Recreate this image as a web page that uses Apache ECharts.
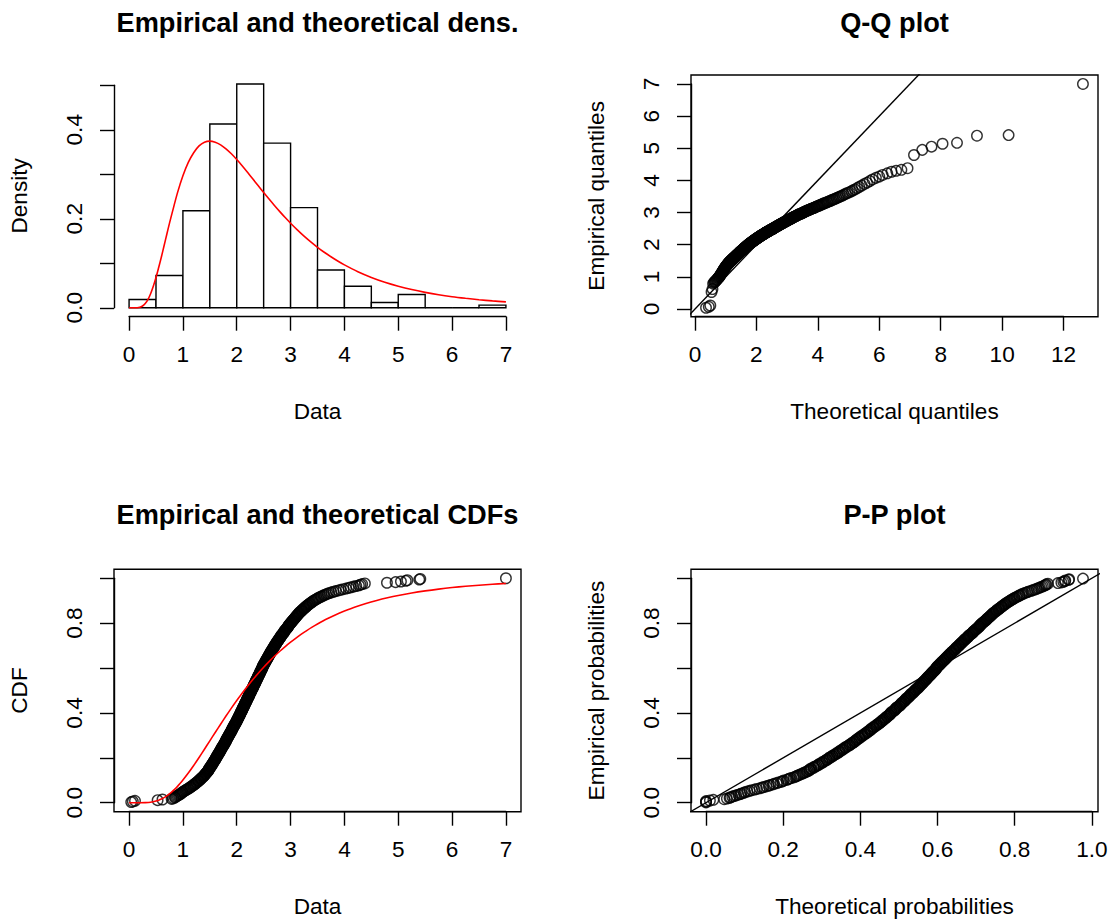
<!DOCTYPE html>
<html>
<head>
<meta charset="utf-8">
<script src="https://cdn.jsdelivr.net/npm/echarts@6.0.0/dist/echarts.min.js"></script>
<style>html,body{margin:0;padding:0;background:#fff}#chart{width:1113px;height:924px}</style>
</head>
<body>
<div id="chart"></div>
<script>
// ---------------- data ----------------
const histEdges = [0, 0.5, 1, 1.5, 2, 2.5, 3, 3.5, 4, 4.5, 5, 5.5, 6, 6.5, 7];
const histDensity = [0.0187, 0.0725, 0.218, 0.413, 0.503, 0.370, 0.225, 0.085, 0.0485, 0.0119, 0.0298, 0, 0, 0.006];

const fitDensX = [0, 0.1, 0.2, 0.25, 0.3, 0.35, 0.4, 0.45, 0.5, 0.55, 0.6, 0.65, 0.7, 0.75, 0.8, 0.9, 1.0, 1.1, 1.2, 1.3, 1.4, 1.5, 1.6, 1.7, 1.8, 1.9, 2.0, 2.1, 2.2, 2.3, 2.4, 2.5, 2.6, 2.7, 2.8, 2.9, 3.0, 3.125, 3.25, 3.375, 3.5, 3.625, 3.75, 3.875, 4.0, 4.25, 4.5, 4.75, 5.0, 5.25, 5.5, 5.75, 6.0, 6.25, 6.5, 6.75, 7.0];
const fitDensY = [0, 0, 0.0012, 0.0040, 0.0096, 0.0185, 0.0316, 0.0484, 0.0679, 0.0905, 0.1141, 0.1393, 0.1646, 0.1897, 0.2132, 0.2587, 0.2966, 0.3267, 0.3485, 0.3638, 0.3720, 0.3745, 0.3720, 0.3662, 0.3572, 0.3460, 0.3331, 0.3192, 0.3044, 0.2893, 0.2742, 0.2590, 0.2443, 0.2299, 0.2161, 0.2027, 0.1900, 0.1751, 0.1610, 0.1481, 0.1359, 0.1247, 0.1146, 0.1050, 0.0963, 0.0810, 0.0682, 0.0574, 0.0485, 0.0409, 0.0346, 0.0292, 0.0248, 0.0212, 0.0180, 0.0154, 0.0132];

const fitCdfX = [0, 0.2, 0.3, 0.4, 0.5, 0.55, 0.6, 0.65, 0.7, 0.75, 0.8, 0.85, 0.9, 0.95, 1.0, 1.1, 1.2, 1.3, 1.4, 1.5, 1.6, 1.7, 1.8, 1.9, 2.0, 2.1, 2.2, 2.3, 2.4, 2.5, 2.6, 2.7, 2.8, 2.9, 3.0, 3.1, 3.2, 3.3, 3.4, 3.5, 3.6, 3.7, 3.8, 3.9, 4.0, 4.2, 4.4, 4.6, 4.8, 5.0, 5.25, 5.5, 5.75, 6.0, 6.25, 6.5, 6.75, 7.0];
const fitCdfY = [0, 0.00003, 0.0005, 0.0024, 0.0073, 0.0113, 0.0164, 0.0227, 0.0303, 0.0391, 0.0492, 0.0605, 0.0729, 0.0864, 0.1008, 0.1320, 0.1658, 0.2015, 0.2383, 0.2756, 0.3130, 0.3499, 0.3861, 0.4213, 0.4553, 0.4878, 0.5191, 0.5488, 0.5770, 0.6036, 0.6288, 0.6525, 0.6748, 0.6957, 0.7154, 0.7338, 0.7510, 0.7671, 0.7822, 0.7962, 0.8093, 0.8216, 0.8331, 0.8438, 0.8537, 0.8717, 0.8874, 0.9010, 0.9129, 0.9233, 0.9344, 0.9438, 0.9518, 0.9586, 0.9643, 0.9692, 0.9733, 0.9769];

// sorted observations
const sample = [
0.04,0.07,0.11,
0.53,0.62,0.79,0.82,0.85,0.86,0.88,0.90,0.92,0.94,0.96,0.97,0.99,
1.00,1.02,1.04,1.06,1.08,1.10,1.12,1.14,1.15,1.17,1.19,1.20,1.22,1.23,1.25,1.26,1.28,1.29,1.30,1.32,
1.33,1.34,1.35,1.37,1.38,1.39,1.40,1.41,1.42,1.43,1.44,1.45,1.46,1.47,1.48,1.48,1.49,1.49,
1.51,1.51,1.52,1.53,1.54,1.54,1.55,1.56,1.57,1.57,1.58,1.59,1.60,1.60,1.61,1.62,1.62,1.63,1.64,1.64,
1.65,1.66,1.67,1.67,1.68,1.69,1.69,1.70,1.71,1.71,1.72,1.73,1.73,1.74,1.75,1.76,1.76,1.77,1.78,1.78,
1.79,1.80,1.80,1.81,1.81,1.82,1.83,1.83,1.84,1.85,1.85,1.86,1.87,1.87,1.88,1.89,1.89,1.90,1.91,1.91,
1.92,1.92,1.93,1.94,1.94,1.95,1.96,1.96,1.97,1.98,1.98,1.99,
2.00,2.00,2.01,2.01,2.02,2.03,2.03,2.04,2.04,2.05,2.06,2.06,2.07,2.07,2.08,2.08,2.09,2.10,2.10,2.11,
2.11,2.12,2.12,2.13,2.14,2.14,2.15,2.15,2.16,2.16,2.17,2.18,2.18,2.19,2.19,2.20,2.20,2.21,2.22,2.22,
2.23,2.23,2.24,2.24,2.25,2.26,2.26,2.27,2.27,2.28,2.28,2.29,2.30,2.30,2.31,2.31,2.32,2.32,2.33,2.34,
2.34,2.35,2.35,2.36,2.36,2.37,2.38,2.38,2.39,2.39,2.40,2.40,2.41,2.42,2.42,2.43,2.43,2.44,2.44,2.45,
2.46,2.46,2.47,2.47,2.48,2.48,2.49,2.49,
2.50,2.51,2.51,2.52,2.53,2.53,2.54,2.55,2.55,2.56,2.57,2.57,2.58,2.59,2.59,2.60,2.61,2.61,2.62,2.63,
2.63,2.64,2.65,2.66,2.66,2.67,2.68,2.68,2.69,2.70,2.71,2.71,2.72,2.73,2.74,2.74,2.75,2.76,2.77,2.78,
2.78,2.79,2.80,2.81,2.82,2.82,2.83,2.84,2.85,2.86,2.87,2.88,2.88,2.89,2.90,2.91,2.92,2.93,2.94,2.95,
2.96,2.96,2.97,2.98,2.99,
3.00,3.01,3.02,3.03,3.04,3.05,3.06,3.07,3.08,3.09,3.10,3.11,3.12,3.13,3.14,3.15,3.16,3.17,3.19,3.20,
3.21,3.22,3.24,3.25,3.26,3.28,3.29,3.30,3.32,3.33,3.35,3.36,3.38,3.40,3.41,3.43,3.45,3.47,3.49,
3.51,3.53,3.56,3.58,3.61,3.63,3.66,3.69,3.72,3.76,3.80,3.84,3.89,3.93,3.98,
4.03,4.08,4.12,4.17,4.22,4.27,4.30,4.33,4.38,
4.79,4.95,
5.05,5.14,5.17,5.39,5.41,
7.00];

// theoretical quantiles matching each observation (Q-Q x positions)
const theoQuantiles = [
0.36,0.45,0.50,0.54,0.57,0.59,0.62,0.64,0.66,0.68,
0.70,0.72,0.73,0.75,0.76,0.78,0.79,0.80,0.82,0.83,
0.84,0.85,0.87,0.88,0.89,0.90,0.91,0.92,0.93,0.94,
0.95,0.96,0.97,0.98,0.99,1.00,1.01,1.02,1.03,1.04,
1.05,1.06,1.07,1.08,1.09,1.09,1.10,1.11,1.12,1.13,
1.14,1.15,1.16,1.16,1.17,1.18,1.19,1.20,1.20,1.21,
1.22,1.23,1.24,1.25,1.25,1.26,1.27,1.28,1.28,1.29,
1.30,1.31,1.32,1.32,1.33,1.34,1.35,1.36,1.36,1.37,
1.38,1.39,1.39,1.40,1.41,1.42,1.43,1.43,1.44,1.45,
1.45,1.46,1.47,1.48,1.48,1.49,1.50,1.51,1.51,1.52,
1.53,1.54,1.55,1.55,1.56,1.57,1.58,1.58,1.59,1.60,
1.61,1.61,1.62,1.63,1.64,1.65,1.65,1.66,1.67,1.68,
1.68,1.69,1.70,1.71,1.72,1.73,1.73,1.74,1.75,1.75,
1.76,1.77,1.78,1.79,1.79,1.80,1.81,1.82,1.83,1.84,
1.84,1.85,1.86,1.87,1.88,1.88,1.89,1.90,1.91,1.92,
1.93,1.93,1.94,1.95,1.96,1.97,1.98,1.98,1.99,2.00,
2.01,2.02,2.03,2.04,2.04,2.05,2.06,2.07,2.08,2.09,
2.10,2.11,2.12,2.12,2.13,
2.14,2.15,2.16,2.17,2.18,
2.19,2.20,2.21,2.22,2.23,2.24,2.25,2.26,2.27,2.28,
2.28,2.29,2.31,2.31,2.32,2.34,2.35,2.35,2.37,2.38,
2.39,2.40,2.41,2.42,2.43,2.44,2.45,2.46,2.47,2.48,
2.49,2.50,2.52,2.53,2.54,2.55,2.56,2.57,2.58,2.59,
2.61,2.62,2.63,2.64,2.65,2.66,2.68,2.69,2.70,2.72,
2.73,2.74,2.75,2.76,2.78,2.79,2.80,2.82,2.83,2.85,
2.86,2.87,2.89,2.90,2.91,2.93,2.94,2.96,2.97,2.99,
3.00,3.02,3.03,3.05,3.06,3.08,3.10,3.11,3.13,3.15,
3.16,3.18,3.19,3.21,3.23,3.25,3.26,3.28,3.30,3.32,
3.34,3.36,3.37,3.39,3.42,3.44,3.46,3.48,3.50,3.52,
3.54,3.56,3.58,3.60,3.63,3.66,3.67,3.70,3.72,3.75,
3.77,3.80,3.82,3.85,3.88,3.90,3.93,3.96,3.99,4.02,
4.05,4.08,4.12,4.15,4.18,4.21,4.25,4.29,4.32,4.36,
4.40,4.44,4.48,4.52,4.56,4.61,4.66,4.70,4.75,4.80,
4.85,4.91,4.96,5.02,5.09,5.14,5.21,5.28,5.35,5.43,
5.52,5.60,5.69,5.78,5.89,6.00,6.11,6.26,6.40,6.55,
6.72,6.92,7.13,7.40,7.70,8.06,8.53,9.18,10.21,12.63];

// theoretical probabilities matching each observation (P-P x positions)
const theoProbs = [
0,0,0,
.010,.019,.047,.054,.061,.063,.068,.073,.078,.084,.089,.092,.098,
.101,.107,.113,.119,.126,.132,.139,.145,.149,.156,.162,.166,.173,.176,.183,.187,.194,.198,.201,.209,
.212,.216,.220,.227,.231,.235,.238,.242,.246,.250,.253,.257,.261,.264,.268,.268,.272,.272,
.279,.279,.283,.287,.291,.291,.294,.298,.302,.302,.306,.309,.313,.313,.317,.320,.320,.324,.328,.328,
.332,.335,.339,.339,.343,.346,.346,.350,.354,.354,.357,.361,.361,.365,.368,.372,.372,.375,.379,.379,
.383,.386,.386,.390,.390,.393,.397,.397,.400,.404,.404,.407,.411,.411,.414,.418,.418,.421,.425,.425,
.428,.428,.432,.435,.435,.439,.442,.442,.445,.449,.449,.452,
.455,.455,.459,.459,.462,.465,.465,.469,.469,.472,.475,.475,.478,.478,.481,.481,.485,.488,.488,.491,
.491,.494,.494,.497,.501,.501,.504,.504,.507,.507,.510,.513,.513,.516,.516,.519,.519,.522,.525,.525,
.528,.528,.531,.531,.534,.537,.537,.540,.540,.543,.543,.546,.549,.549,.552,.552,.555,.555,.557,.560,
.560,.563,.563,.566,.566,.569,.571,.571,.574,.574,.577,.577,.580,.582,.582,.585,.585,.588,.588,.591,
.593,.593,.596,.596,.598,.598,.601,.601,
.604,.606,.606,.609,.611,.611,.614,.616,.616,.619,.621,.621,.624,.626,.626,.629,.631,.631,.634,.636,
.636,.638,.641,.643,.643,.646,.648,.648,.650,.653,.655,.655,.657,.659,.662,.662,.664,.666,.668,.670,
.670,.673,.675,.677,.679,.679,.681,.683,.685,.688,.690,.692,.692,.694,.696,.698,.700,.702,.704,.706,
.708,.708,.710,.712,.713,
.715,.717,.719,.721,.723,.725,.727,.728,.730,.732,.734,.736,.737,.739,.741,.743,.744,.746,.749,.751,
.753,.754,.758,.759,.761,.764,.766,.767,.770,.772,.775,.776,.779,.782,.784,.787,.789,.792,.795,
.798,.800,.804,.807,.811,.813,.817,.820,.824,.829,.833,.837,.843,.847,.852,
.857,.861,.865,.869,.873,.877,.880,.882,.886,
.912,.921,
.926,.930,.931,.940,.941,
.977];

// tick labels
const densXLabels = ['0','1','2','3','4','5','6','7'];
const densYLabels = ['0.0','','0.2','','0.4',''];
const qqXLabels = ['0','2','4','6','8','10','12'];
const qqYLabels = ['0','1','2','3','4','5','6','7'];
const cdfXLabels = ['0','1','2','3','4','5','6','7'];
const probYLabels = ['0.0','','0.4','','0.8',''];
const ppXLabels = ['0.0','0.2','0.4','0.6','0.8','1.0'];
const identityLineQQ = [-1, 14];
const identityLinePP = [-0.1, 1.1];

// ---------------- chart ----------------
const FONT = "'Liberation Sans', Arial, Helvetica, sans-serif";
const N = sample.length;
const LW = 1.4;

const boxStyle = {show: true, borderColor: '#000', borderWidth: LW, backgroundColor: 'rgba(0,0,0,0)'};
const grids = [
  {left: 114, top: 75, width: 407, height: 241.7},
  {left: 129.07, top: 75, width: 376.85, height: 241.7},
  {left: 114, top: 85.26, width: 407, height: 222.5},
  Object.assign({left: 691, top: 75, width: 407, height: 241.7}, boxStyle),
  {left: 694.96, top: 75, width: 368.64, height: 241.7},
  {left: 691, top: 83.94, width: 407, height: 225.11},
  Object.assign({left: 114, top: 569.3, width: 407, height: 242.4}, boxStyle),
  {left: 129.07, top: 569.3, width: 376.85, height: 242.4},
  {left: 114, top: 578.28, width: 407, height: 224.44},
  Object.assign({left: 691, top: 569.3, width: 407, height: 242.4}, boxStyle),
  {left: 706.05, top: 569.3, width: 385.82, height: 242.4},
  {left: 691, top: 578.28, width: 407, height: 224.44}
].map(g => Object.assign({containLabel: false, outerBoundsMode: 'none'}, g));

const txt = {color: '#000', fontFamily: FONT, fontSize: 22.6, lineHeight: 22};
function hidden(gi, min, max) {
  return {type: 'value', gridIndex: gi, show: false, min: min, max: max};
}
// axis of the plotting region: invisible except for its title, centred on the region
function named(gi, min, max, name, vertical) {
  const ax = {
    type: 'value', gridIndex: gi, min: min, max: max, show: true,
    position: vertical ? 'left' : 'bottom',
    axisLine: {show: false}, axisTick: {show: false}, axisLabel: {show: false}, splitLine: {show: false},
    name: name, nameLocation: 'middle', nameGap: 84, nameTextStyle: Object.assign({}, txt)
  };
  if (vertical) ax.nameRotate = 90;
  return ax;
}
function shownX(gi, min, max, interval, labels) {
  return {
    type: 'value', gridIndex: gi, min: min, max: max, interval: interval, position: 'bottom',
    axisLine: {show: true, onZero: false, lineStyle: {color: '#000', width: LW}},
    axisTick: {show: true, length: 14, lineStyle: {color: '#000', width: LW}},
    splitLine: {show: false},
    axisLabel: Object.assign({show: true, margin: 26.5, showMinLabel: true, showMaxLabel: true,
      formatter: (v, i) => labels[i] || ''}, txt)
  };
}
function shownY(gi, min, max, interval, labels) {
  return {
    type: 'value', gridIndex: gi, min: min, max: max, interval: interval, position: 'left',
    axisLine: {show: true, onZero: false, lineStyle: {color: '#000', width: LW}},
    axisTick: {show: true, length: 14, lineStyle: {color: '#000', width: LW}},
    splitLine: {show: false},
    axisLabel: Object.assign({show: true, margin: 29, rotate: 90, showMinLabel: true, showMaxLabel: true,
      formatter: (v, i) => labels[i] || ''}, txt)
  };
}

const xAxis = [
  named(0, -0.28, 7.28, 'Data', false),
  shownX(1, 0, 7, 1, densXLabels),
  hidden(2, 0, 1),
  named(3, -0.129, 13.12, 'Theoretical quantiles', false),
  shownX(4, 0, 12, 2, qqXLabels),
  hidden(5, 0, 1),
  named(6, -0.28, 7.28, 'Data', false),
  shownX(7, 0, 7, 1, cdfXLabels),
  hidden(8, 0, 1),
  named(9, -0.039, 1.0159, 'Theoretical probabilities', false),
  shownX(10, 0, 1, 0.2, ppXLabels),
  hidden(11, 0, 1)
];
const yAxis = [
  named(0, -0.0201, 0.5231, 'Density', true),
  hidden(1, 0, 1),
  shownY(2, 0, 0.5, 0.1, densYLabels),
  named(3, -0.238, 7.278, 'Empirical quantiles', true),
  hidden(4, 0, 1),
  shownY(5, 0, 7, 1, qqYLabels),
  named(6, -0.04, 1.04, 'CDF', true),
  hidden(7, 0, 1),
  shownY(8, 0, 1, 0.2, probYLabels),
  named(9, -0.04, 1.04, 'Empirical probabilities', true),
  hidden(10, 0, 1),
  shownY(11, 0, 1, 0.2, probYLabels)
];

const titleStyle = {color: '#000', fontFamily: FONT, fontSize: 27.2, fontWeight: 'bold', lineHeight: 28};
const titles = [
  ['Empirical and theoretical dens.', 317.5, 22],
  ['Q-Q plot', 894.5, 22],
  ['Empirical and theoretical CDFs', 317.5, 514],
  ['P-P plot', 894.5, 514]
].map(t => ({text: t[0], left: t[1], top: t[2], padding: 0, textAlign: 'center', textVerticalAlign: 'middle', textStyle: titleStyle}));

const histData = histDensity.map((d, i) => [histEdges[i], histEdges[i + 1], d]);
const circle = {symbol: 'circle', symbolSize: 10.5, itemStyle: {color: 'rgba(0,0,0,0)', borderColor: '#000', borderWidth: 1.4}, silent: true};

const option = {
  animation: false,
  backgroundColor: '#ffffff',
  title: titles,
  grid: grids,
  xAxis: xAxis,
  yAxis: yAxis,
  series: [
    {type: 'custom', xAxisIndex: 0, yAxisIndex: 0, data: histData, silent: true,
      encode: {x: [0, 1], y: 2},
      renderItem: (params, api) => {
        const a = api.coord([api.value(0), api.value(2)]);
        const b = api.coord([api.value(1), 0]);
        return {type: 'rect', shape: {x: a[0], y: a[1], width: b[0] - a[0], height: b[1] - a[1]},
          style: {fill: '#fff', stroke: '#000', lineWidth: LW}};
      }},
    {type: 'line', xAxisIndex: 0, yAxisIndex: 0, data: fitDensX.map((x, i) => [x, fitDensY[i]]),
      symbol: 'none', smooth: 0.3, silent: true, lineStyle: {color: '#ff0000', width: 1.6}},
    Object.assign({type: 'scatter', xAxisIndex: 3, yAxisIndex: 3,
      data: sample.map((v, i) => [theoQuantiles[i], v])}, circle),
    {type: 'line', xAxisIndex: 3, yAxisIndex: 3, data: identityLineQQ.map(v => [v, v]),
      symbol: 'none', clip: true, silent: true, lineStyle: {color: '#000', width: LW}},
    Object.assign({type: 'scatter', xAxisIndex: 6, yAxisIndex: 6,
      data: sample.map((v, i) => [v, (i + 1) / N])}, circle),
    {type: 'line', xAxisIndex: 6, yAxisIndex: 6, data: fitCdfX.map((x, i) => [x, fitCdfY[i]]),
      symbol: 'none', smooth: 0.3, silent: true, lineStyle: {color: '#ff0000', width: 1.6}},
    Object.assign({type: 'scatter', xAxisIndex: 9, yAxisIndex: 9,
      data: sample.map((v, i) => [theoProbs[i], (i + 0.5) / N])}, circle),
    {type: 'line', xAxisIndex: 9, yAxisIndex: 9, data: identityLinePP.map(v => [v, v]),
      symbol: 'none', clip: true, silent: true, lineStyle: {color: '#000', width: LW}}
  ]
};

const chart = echarts.init(document.getElementById('chart'), null, {renderer: 'svg', width: 1113, height: 924});
chart.setOption(option);
</script>
</body>
</html>
